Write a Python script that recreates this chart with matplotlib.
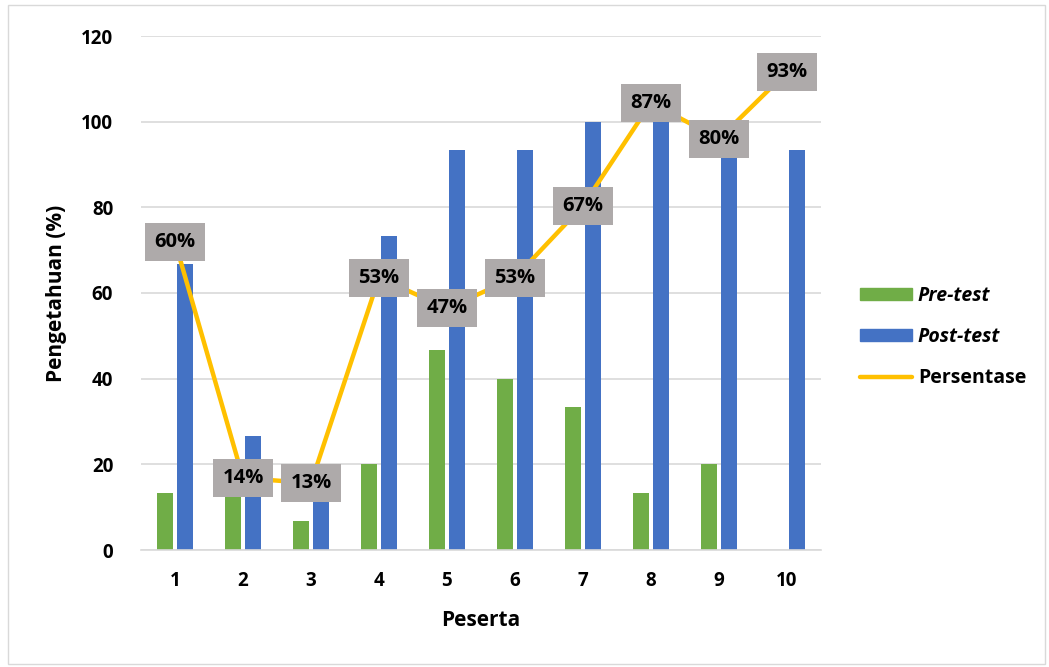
import numpy as np
import matplotlib.pyplot as plt
from matplotlib.patches import Rectangle
from matplotlib.lines import Line2D

plt.rcParams['font.family'] = ['Open Sans', 'DejaVu Sans']
plt.rcParams['font.weight'] = 'bold'

peserta = [1, 2, 3, 4, 5, 6, 7, 8, 9, 10]
pre_test = [13.3, 13.3, 6.7, 20, 46.7, 40, 33.3, 13.3, 20, 0]
post_test = [66.7, 26.7, 13.3, 73.3, 93.3, 93.3, 100, 100, 93.3, 93.3]
persentase = [0.60, 0.14, 0.13, 0.53, 0.47, 0.53, 0.67, 0.87, 0.80, 0.93]

GREEN = '#70AD47'
BLUE = '#4472C4'
GOLD = '#FFC000'

fig = plt.figure(figsize=(10.49, 6.67), dpi=100)
fig.patches.append(Rectangle((0.008, 0.005), 0.988, 0.988, transform=fig.transFigure,
                             fill=False, edgecolor='#D9D9D9', linewidth=1))
ax = fig.add_axes([141 / 1049, (667 - 550) / 667, 680 / 1049, 514 / 667])

x = np.arange(len(peserta))
w = 0.23
ax.bar(x - 0.145, pre_test, w, color=GREEN, zorder=2)
ax.bar(x + 0.145, post_test, w, color=BLUE, zorder=2)
ax.set_xlim(-0.5, len(peserta) - 0.5)
ax.set_ylim(0, 120)
ax.set_yticks(range(0, 121, 20))
ax.set_xticks(x)
ax.set_xticklabels([str(p) for p in peserta])
ax.grid(axis='y', color='#D9D9D9', linewidth=1.2, zorder=0)
ax.set_axisbelow(True)
for s in ['top', 'right', 'left']:
    ax.spines[s].set_visible(False)
ax.spines['bottom'].set_color('#D9D9D9')
ax.spines['bottom'].set_linewidth(1.2)
ax.tick_params(length=0, labelsize=13.5, pad=15)
ax.tick_params(axis='y', pad=20)
for t in ax.get_xticklabels() + ax.get_yticklabels():
    t.set_fontweight('bold')
ax.set_xlabel('Peserta', fontsize=15, fontweight='bold', labelpad=14)
ax.set_ylabel('Pengetahuan (%)', fontsize=15, fontweight='bold', labelpad=10)

ax2 = ax.twinx()
ax2.set_ylim(0, 1)
ax2.axis('off')
ax2.plot(x, persentase, color=GOLD, linewidth=3.2, solid_capstyle='round', zorder=3)
for xi, v in zip(x, persentase):
    ax2.text(xi, v, f'{round(v * 100)}%', ha='center', va='center', fontsize=14.5,
             fontweight='bold', color='black', zorder=4,
             bbox=dict(boxstyle='square,pad=0.45', fc='#AEAAAA', ec='none'))

handles = [Rectangle((0, 0), 1, 1, color=GREEN),
           Rectangle((0, 0), 1, 1, color=BLUE),
           Line2D([0], [0], color=GOLD, linewidth=3.2, solid_capstyle='round')]
leg = fig.legend(handles, ['Pre-test', 'Post-test', 'Persentase'], loc='center left',
                 bbox_to_anchor=(842 / 1049, 1 - 337 / 667), frameon=False,
                 fontsize=14, handlelength=2.7, handleheight=0.6, labelspacing=1.1,
                 handletextpad=0.3)
for i, t in enumerate(leg.get_texts()):
    t.set_fontweight('bold')
    if i < 2:
        t.set_fontstyle('italic')

fig.savefig('out.png', dpi=100)
